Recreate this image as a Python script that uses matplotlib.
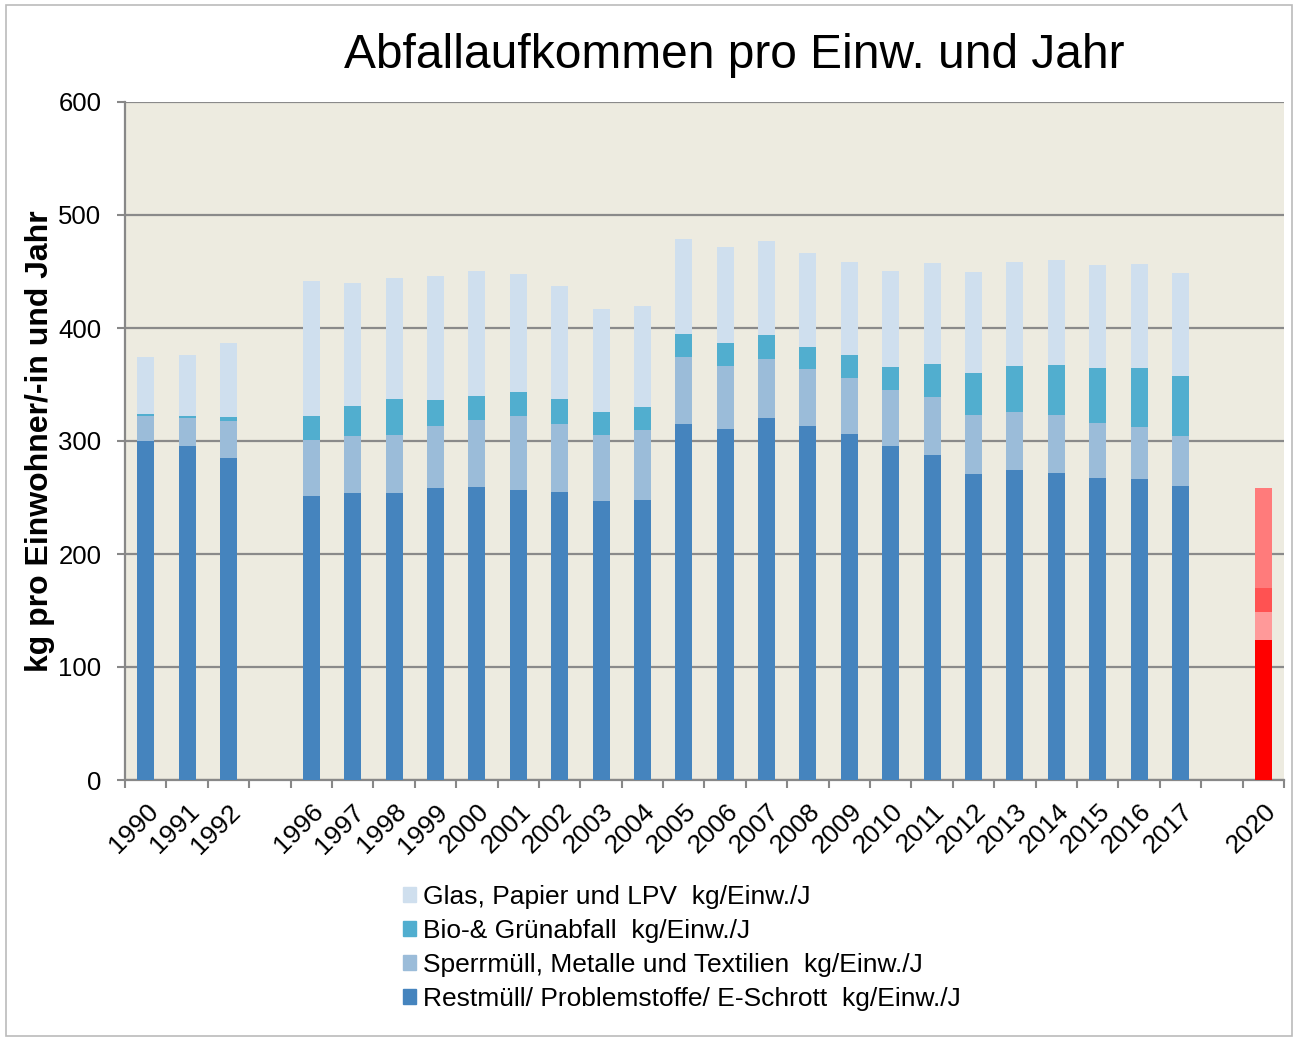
import matplotlib.pyplot as plt
import numpy as np
from matplotlib.patches import Rectangle

plt.rcParams['font.family'] = ['Liberation Sans', 'DejaVu Sans']

# Kategorien (leere Einträge = Lücken in der Achse)
years = ['1990', '1991', '1992', '', '1996', '1997', '1998', '1999', '2000', '2001',
         '2002', '2003', '2004', '2005', '2006', '2007', '2008', '2009', '2010',
         '2011', '2012', '2013', '2014', '2015', '2016', '2017', '', '2020']

nan = np.nan
# Werte kg/Einw./J
restmuell = [300, 296, 285, nan, 251, 254, 254, 258, 259, 257,
             255, 247, 248, 315, 311, 320, 313, 306, 296,
             288, 271, 274, 272, 267, 266, 260, nan, 124]
sperrmuell = [22.5, 24.5, 32.5, nan, 49.5, 50, 51, 55, 59.5, 65.5,
              60, 58, 61.5, 59, 55.5, 52.5, 50.5, 50, 49,
              50.5, 52, 51.5, 51, 49, 46, 44.5, nan, 24.7]
bio = [1, 1.5, 3.5, nan, 21.5, 27, 32, 23, 21.5, 21,
       22.5, 20.5, 21, 20.5, 20, 21, 19.5, 20, 20.5,
       29.5, 37, 40.5, 44.5, 48.5, 52.5, 53, nan, 21.3]
glas = [51, 54.5, 66, nan, 119.5, 108.5, 107, 110, 110, 104.5,
        99.5, 91, 89, 84, 85, 83.5, 83.5, 82, 85,
        89.5, 89.5, 92, 92.5, 91.5, 92.5, 91.5, nan, 88.4]

labels = ['Restmüll/ Problemstoffe/ E-Schrott  kg/Einw./J',
          'Sperrmüll, Metalle und Textilien  kg/Einw./J',
          'Bio-& Grünabfall  kg/Einw./J',
          'Glas, Papier und LPV  kg/Einw./J']
colors = ['#4584BE', '#9BBCD9', '#51AECF', '#CFDFEE']
colors_2020 = ['#FF0000', '#FF9999', '#FF5252', '#FF7B7B']

fig = plt.figure(figsize=(12.98, 10.39), dpi=100)
ax = fig.add_axes([125 / 1298, 1 - 780 / 1039, (1284 - 125) / 1298, (780 - 102) / 1039])
ax.set_facecolor('#EDEBE0')

x = np.arange(len(years))
series = [restmuell, sperrmuell, bio, glas]
bottom = np.zeros(len(years))
for vals, col, col20, lab in zip(series, colors, colors_2020, labels):
    vals = np.array(vals, dtype=float)
    barcols = [col20 if y == '2020' else col for y in years]
    ax.bar(x, np.nan_to_num(vals), width=0.41, bottom=bottom, color=barcols,
           label=lab, zorder=3)
    bottom += np.nan_to_num(vals)

ax.set_xlim(-0.5, len(years) - 0.5)
ax.set_ylim(0, 600)
ax.set_yticks(range(0, 601, 100))
ax.tick_params(axis='y', labelsize=18.5, length=6, width=1.5, color='#888888', pad=11)
ax.grid(axis='y', color='#8A8A8A', linewidth=1.6, zorder=1)

ax.set_xticks(x)
ax.set_xticklabels(years, rotation=45, ha='right', rotation_mode='anchor', fontsize=19)
ax.tick_params(axis='x', which='major', length=0, pad=14)
ax.set_xticks(np.arange(-0.5, len(years)), minor=True)
ax.tick_params(axis='x', which='minor', length=6, width=1.5, color='#888888')

for s in ['top', 'right']:
    ax.spines[s].set_visible(False)
for s in ['left', 'bottom']:
    ax.spines[s].set_color('#888888')
    ax.spines[s].set_linewidth(1.6)

ax.set_ylabel('kg pro Einwohner/-in und Jahr', fontsize=23, fontweight='bold', labelpad=2)

fig.text(0.566, 1 - 56 / 1039, 'Abfallaufkommen pro Einw. und Jahr', ha='center', va='center', fontsize=34.5)

handles, labs = ax.get_legend_handles_labels()
leg = fig.legend(handles[::-1], labs[::-1], loc='upper left',
                 bbox_to_anchor=(403 / 1298, 1 - 885 / 1039), frameon=False,
                 fontsize=19, handlelength=0.5, handleheight=0.5, handletextpad=0.25,
                 labelspacing=0.38, borderaxespad=0, borderpad=0)
for i, h in enumerate(leg.legend_handles):
    h.set_color(colors[len(colors) - 1 - i])

fig.patches.append(Rectangle((0.005, 0.003), 0.99, 0.992, transform=fig.transFigure,
                             fill=False, edgecolor='#BBBBBB', linewidth=1.2))

fig.savefig('out.png', dpi=100)
